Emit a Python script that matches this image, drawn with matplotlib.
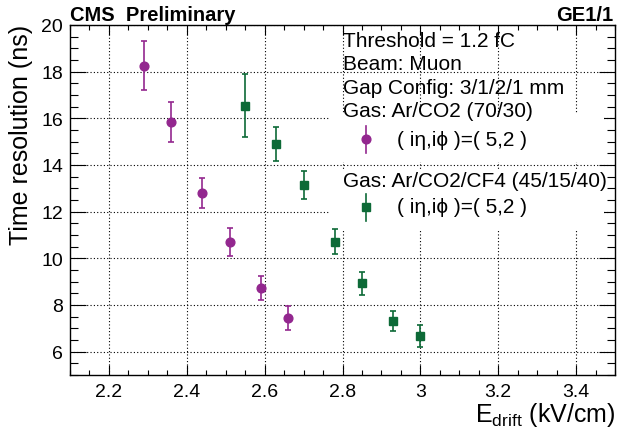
import matplotlib
matplotlib.use("Agg")
import matplotlib.pyplot as plt
from matplotlib.patches import Rectangle
from matplotlib.ticker import MultipleLocator

# ---- data ----
e_arco2 = [2.29, 2.36, 2.44, 2.51, 2.59, 2.66]
t_arco2 = [18.26, 15.83, 12.80, 10.69, 8.74, 7.43]
err_arco2 = [1.05, 0.86, 0.65, 0.60, 0.52, 0.52]

e_cf4 = [2.55, 2.63, 2.70, 2.78, 2.85, 2.93, 3.00]
t_cf4 = [16.54, 14.89, 13.16, 10.71, 8.93, 7.31, 6.68]
err_cf4 = [1.35, 0.72, 0.60, 0.53, 0.48, 0.44, 0.48]

info_lines = ["Threshold = 1.2 fC", "Beam: Muon", "Gap Config: 3/1/2/1 mm",
              "Gas: Ar/CO2 (70/30)"]
gas2_label = "Gas: Ar/CO2/CF4 (45/15/40)"
entry_label = "( iη,iϕ )=( 5,2 )"

PURPLE = "#93278f"
GREEN = "#0d6a37"

plt.rcParams['font.family'] = ['Liberation Sans', 'DejaVu Sans']
plt.rcParams['mathtext.fontset'] = 'custom'
plt.rcParams['mathtext.rm'] = 'Liberation Sans'
plt.rcParams['mathtext.it'] = 'Liberation Sans'

W, H = 617, 435
fig = plt.figure(figsize=(W / 100, H / 100), dpi=100)
L, R, B, T = 70, 615, 376, 26
ax = fig.add_axes([L / W, 1 - B / H, (R - L) / W, (B - T) / H])

def fx(px):
    return px / W

def fy(py):
    return 1 - py / H

ax.set_xlim(2.1, 3.5)
ax.set_ylim(5, 20)
ax.xaxis.set_major_locator(MultipleLocator(0.2))
ax.xaxis.set_minor_locator(MultipleLocator(0.05))
ax.yaxis.set_major_locator(MultipleLocator(2))
ax.yaxis.set_minor_locator(MultipleLocator(0.5))
ax.set_xticks([2.2, 2.4, 2.6, 2.8, 3.0, 3.2, 3.4])
ax.set_xticklabels(["2.2", "2.4", "2.6", "2.8", "3", "3.2", "3.4"])

ax.set_axisbelow(True)
ax.grid(True, which='major', color='black', linestyle=(0, (1, 2)), linewidth=0.8)

for s in ax.spines.values():
    s.set_linewidth(1.0)

ax.tick_params(axis='x', which='major', direction='in', top=True, length=7.5,
               width=0.8, labelsize=14, pad=6)
ax.tick_params(axis='x', which='minor', direction='in', top=True, length=3.8, width=0.8)
ax.tick_params(axis='y', which='major', direction='in', right=True, length=11.8,
               width=0.8, labelsize=14, pad=5)
ax.tick_params(axis='y', which='minor', direction='in', right=True, length=5.9, width=0.8)

# white legend boxes that hide the grid
ax.add_patch(Rectangle(((329 - L) / (R - L), (B - 163) / (B - T)),
                       (604 - 329) / (R - L), (163 - 115) / (B - T),
                       transform=ax.transAxes, facecolor='white', edgecolor='none', zorder=1))
ax.add_patch(Rectangle(((329 - L) / (R - L), (B - 231.5) / (B - T)),
                       (604 - 329) / (R - L), (231.5 - 172) / (B - T),
                       transform=ax.transAxes, facecolor='white', edgecolor='none', zorder=1))

ax.errorbar(e_arco2, t_arco2, yerr=err_arco2, fmt='o', color=PURPLE, ms=6.3,
            elinewidth=1.2, capsize=2, capthick=1.2, zorder=3)
ax.errorbar(e_cf4, t_cf4, yerr=err_cf4, fmt='s', color=GREEN, ms=6.3,
            elinewidth=1.2, capsize=2, capthick=1.2, zorder=3)

# titles
fig.text(fx(70), fy(20.7), "CMS  Preliminary", fontsize=14.5, fontweight='bold',
         ha='left', va='baseline')
fig.text(fx(613), fy(20.7), "GE1/1", fontsize=14.5, fontweight='bold',
         ha='right', va='baseline')
fig.text(fx(21.5), fy(25), "Time resolution (ns)", fontsize=18, rotation=90,
         ha='center', va='top')
fig.text(fx(615), fy(421.7), r"E$_{\mathrm{drift}}$ (kV/cm)", fontsize=18,
         ha='right', va='baseline')

# legend texts
baselines = [47, 70.4, 93.8, 117.2]
for txt, yb in zip(info_lines, baselines):
    fig.text(fx(343), fy(yb), txt, fontsize=15, ha='left', va='baseline', zorder=5)
fig.text(fx(343), fy(186.7), gas2_label, fontsize=15, ha='left', va='baseline', zorder=5)

for yc, col, mk in [(140, PURPLE, 'o'), (208, GREEN, 's')]:
    ax.plot([fx(366), fx(366)], [fy(yc - 13.5), fy(yc + 13.5)], color=col, lw=1.2,
            transform=fig.transFigure, clip_on=False, zorder=5)
    ax.plot([fx(366)], [fy(yc)], marker=mk, color=col, ms=6.3, linestyle='none',
            transform=fig.transFigure, clip_on=False, zorder=6)
    fig.text(fx(397), fy(yc), entry_label, fontsize=15, ha='left', va='center', zorder=5)

fig.savefig("out.png", dpi=100)
